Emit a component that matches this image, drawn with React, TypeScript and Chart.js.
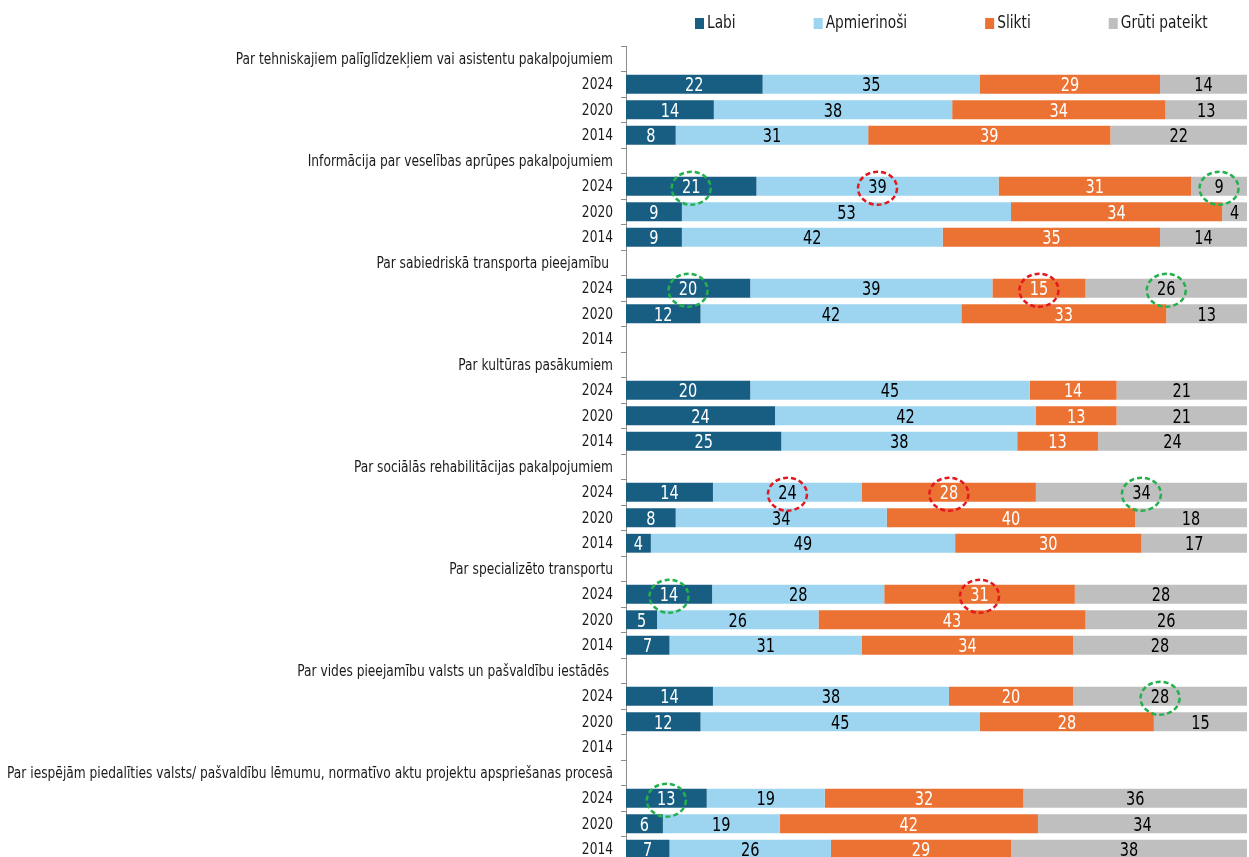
import React, { useEffect, useRef } from "react";
import { Chart, registerables } from "chart.js";

Chart.register(...registerables);

const categories: string[] = [
  "Par tehniskajiem palīglīdzekļiem vai asistentu pakalpojumiem", "2024", "2020", "2014",
  "Informācija par veselības aprūpes pakalpojumiem", "2024", "2020", "2014",
  "Par sabiedriskā transporta pieejamību ", "2024", "2020", "2014",
  "Par kultūras pasākumiem", "2024", "2020", "2014",
  "Par sociālās rehabilitācijas pakalpojumiem", "2024", "2020", "2014",
  "Par specializēto transportu", "2024", "2020", "2014",
  "Par vides pieejamību valsts un pašvaldību iestādēs ", "2024", "2020", "2014",
  "Par iespējām piedalīties valsts/ pašvaldību lēmumu, normatīvo aktu projektu apspriešanas procesā", "2024", "2020", "2014",
];

const seriesNames = ["Labi", "Apmierinoši", "Slikti", "Grūti pateikt"];

const labi: (number | null)[] = [null, 22, 14, 8, null, 21, 9, 9, null, 20, 12, null, null, 20, 24, 25, null, 14, 8, 4, null, 14, 5, 7, null, 14, 12, null, null, 13, 6, 7];
const apmierinosi: (number | null)[] = [null, 35, 38, 31, null, 39, 53, 42, null, 39, 42, null, null, 45, 42, 38, null, 24, 34, 49, null, 28, 26, 31, null, 38, 45, null, null, 19, 19, 26];
const slikti: (number | null)[] = [null, 29, 34, 39, null, 31, 34, 35, null, 15, 33, null, null, 14, 13, 13, null, 28, 40, 30, null, 31, 43, 34, null, 20, 28, null, null, 32, 42, 29];
const gruti: (number | null)[] = [null, 14, 13, 22, null, 9, 4, 14, null, 26, 13, null, null, 21, 21, 24, null, 34, 18, 17, null, 28, 26, 28, null, 28, 15, null, null, 36, 34, 38];

// highlighted labels: [row, series index, kind]
const highlights: [number, number, "good" | "bad"][] = [
  [5, 0, "good"], [5, 1, "bad"], [5, 3, "good"],
  [9, 0, "good"], [9, 2, "bad"], [9, 3, "good"],
  [17, 1, "bad"], [17, 2, "bad"], [17, 3, "good"],
  [21, 0, "good"], [21, 2, "bad"],
  [25, 3, "good"],
  [29, 0, "good"],
];

const FONT = "'DejaVu Sans Condensed', 'Liberation Sans Narrow', sans-serif";
const TEXT_SQUEEZE = 0.85;
const COLORS = ["#185E82", "#9DD4EF", "#EB7233", "#BFBFBF"];
const LABEL_COLORS = ["#ffffff", "#000000", "#ffffff", "#000000"];
const KIND_COLORS = { good: "#22B14C", bad: "#E3191F" };

const allSeries = [labi, apmierinosi, slikti, gruti];

function rowSum(j: number): number {
  let s = 0;
  for (const arr of allSeries) s += arr[j] ?? 0;
  return s;
}

function squeezedText(ctx: CanvasRenderingContext2D, text: string, x: number, y: number) {
  ctx.save();
  ctx.translate(x, y);
  ctx.scale(TEXT_SQUEEZE, 1);
  ctx.fillText(text, 0, 0);
  ctx.restore();
}

const labelPlugin = {
  id: "segmentLabels",
  afterDatasetsDraw(chart: any) {
    const ctx = chart.ctx;
    ctx.save();
    ctx.font = `19px ${FONT}`;
    ctx.textAlign = "center";
    ctx.textBaseline = "middle";
    chart.data.datasets.forEach((ds: any, i: number) => {
      const meta = chart.getDatasetMeta(i);
      meta.data.forEach((el: any, j: number) => {
        const v = allSeries[i][j];
        if (v === null || v === undefined) return;
        const { x, base, y } = el.getProps(["x", "base", "y"], true);
        ctx.fillStyle = LABEL_COLORS[i];
        squeezedText(ctx, String(v), (x + base) / 2, y + 2);
      });
    });
    ctx.lineWidth = 2.5;
    ctx.setLineDash([5, 3]);
    highlights.forEach(([row, si, kind]) => {
      const el = chart.getDatasetMeta(si).data[row];
      if (!el) return;
      const { x, base, y } = el.getProps(["x", "base", "y"], true);
      ctx.strokeStyle = KIND_COLORS[kind];
      ctx.beginPath();
      ctx.ellipse((x + base) / 2, y + 2, 19.5, 16.5, 0, 0, Math.PI * 2);
      ctx.stroke();
    });
    ctx.restore();
  },
};

const axisLabelPlugin = {
  id: "axisLabels",
  afterDraw(chart: any) {
    const ctx = chart.ctx;
    const yScale = chart.scales.y;
    ctx.save();
    ctx.font = `16px ${FONT}`;
    ctx.textAlign = "right";
    ctx.textBaseline = "middle";
    ctx.fillStyle = "#1a1a1a";
    const xRight = chart.chartArea.left - 13;
    yScale.ticks.forEach((t: any, i: number) => {
      const y = yScale.getPixelForTick(i);
      squeezedText(ctx, String(yScale.getLabelForValue(t.value)), xRight, y + 1);
    });
    ctx.restore();
  },
};

const legendPlugin = {
  id: "customLegend",
  afterDraw(chart: any) {
    const ctx = chart.ctx;
    const area = chart.chartArea;
    ctx.save();
    ctx.font = `18px ${FONT}`;
    ctx.textBaseline = "middle";
    ctx.textAlign = "left";
    const boxW = 9;
    const boxH = 11;
    const boxGap = 3;
    const itemGap = 78;
    const cy = 23.5;
    let x = area.left + 69;
    chart.data.datasets.forEach((ds: any) => {
      ctx.fillStyle = ds.backgroundColor;
      ctx.fillRect(x, cy - boxH / 2, boxW, boxH);
      ctx.fillStyle = "#1a1a1a";
      const tx = x + boxW + boxGap;
      squeezedText(ctx, ds.label, tx, cy);
      x = tx + ctx.measureText(ds.label).width * TEXT_SQUEEZE + itemGap;
    });
    ctx.restore();
  },
};

export default function App() {
  const canvasRef = useRef<HTMLCanvasElement | null>(null);

  useEffect(() => {
    if (!canvasRef.current) return;
    const datasets = allSeries.map((arr, i) => ({
      label: seriesNames[i],
      data: arr.map((v, j) => (v === null ? null : (v / rowSum(j)) * 100)),
      backgroundColor: COLORS[i],
      borderWidth: 0,
      barPercentage: 0.74,
      categoryPercentage: 1,
    }));
    const chart = new Chart(canvasRef.current, {
      type: "bar",
      data: { labels: categories, datasets },
      options: {
        indexAxis: "y",
        responsive: false,
        animation: false,
        layout: { padding: { top: 46, right: 2, bottom: 2, left: 0 } },
        plugins: {
          legend: { display: false },
          tooltip: { enabled: false },
        },
        scales: {
          x: { stacked: true, display: false, min: 0, max: 100 },
          y: {
            stacked: true,
            offset: true,
            border: { display: true, color: "#8c8c8c", width: 1 },
            grid: {
              display: true,
              drawOnChartArea: false,
              drawTicks: true,
              tickLength: 5,
              color: "#8c8c8c",
              offset: true,
            },
            ticks: { display: false, autoSkip: false },
            afterFit: (scale: any) => {
              scale.width = 626;
            },
          },
        },
      } as any,
      plugins: [labelPlugin, axisLabelPlugin, legendPlugin],
    });
    return () => chart.destroy();
  }, []);

  return (
    <div style={{ position: "fixed", left: 0, top: 0, width: 1249, height: 864, background: "#fff" }}>
      <canvas ref={canvasRef} width={1249} height={864} style={{ display: "block" }} />
    </div>
  );
}
